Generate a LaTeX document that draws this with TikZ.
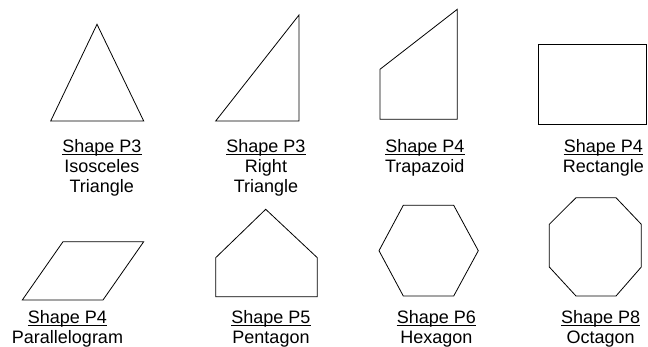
\documentclass[tikz,border=0pt]{standalone}
\usepackage{fontspec}
\setmainfont{Liberation Sans}
\begin{document}
\begin{tikzpicture}[x=1pt,y=-1pt,
  poly/.style={draw, line width=0.8pt, line join=miter},
  lab/.style={anchor=base, inner sep=0pt, font=\fontsize{18}{20}\selectfont},
  ul/.style={line width=1.2pt}]
\useasboundingbox (0,0) rectangle (648,347);
% row 1 shapes
\draw[poly] (97,24.3) -- (143.7,121) -- (50.7,121) -- cycle;
\draw[poly] (299,15) -- (299,121) -- (215.7,121) -- cycle;
\draw[poly] (457.3,9.3) -- (457.3,119.3) -- (380,119.3) -- (380,69.3) -- cycle;
\draw[poly] (538.7,44) rectangle (646.5,124);
% row 2 shapes
\draw[poly] (63,241.7) -- (143.7,241.7) -- (103,300) -- (22.3,300) -- cycle;
\draw[poly] (265.7,209.3) -- (317.3,257.7) -- (317.3,296.7) -- (215.7,296.7) -- (215.7,257.7) -- cycle;
\draw[poly] (403.3,205.3) -- (453.7,205.3) -- (478.3,250.7) -- (453.7,296) -- (403.3,296) -- (379,250.7) -- cycle;
\draw[poly] (576,197.7) -- (616,197.7) -- (641.3,224.3) -- (641.3,267) -- (616,296) -- (576,296) -- (549.3,267) -- (549.3,224.3) -- cycle;
% labels row 1
\node[lab] (a1) at (101.8,152.7) {Shape P3};
\node[lab] (a2) at (101.8,172.2) {Isosceles};
\node[lab] (a3) at (101.8,192.5) {Triangle};
\node[lab] (b1) at (266,152.7) {Shape P3};
\node[lab] (b2) at (266,172.2) {Right};
\node[lab] (b3) at (266,192.5) {Triangle};
\node[lab] (c1) at (424.8,152.7) {Shape P4};
\node[lab] (c2) at (424.8,172.2) {Trapazoid};
\node[lab] (d1) at (603.3,152.7) {Shape P4};
\node[lab] (d2) at (603.3,172.2) {Rectangle};
% labels row 2
\node[lab] (e1) at (67.5,323.5) {Shape P4};
\node[lab] (e2) at (67.5,343.2) {Parallelogram};
\node[lab] (f1) at (271,323.5) {Shape P5};
\node[lab] (f2) at (271,343.2) {Pentagon};
\node[lab] (g1) at (436.3,323.5) {Shape P6};
\node[lab] (g2) at (436.3,343.2) {Hexagon};
\node[lab] (h1) at (600.7,323.5) {Shape P8};
\node[lab] (h2) at (600.7,343.2) {Octagon};
% underlines
\foreach \n in {a1,b1,c1,d1,e1,f1,g1,h1}
  \draw[ul] ([yshift=-1.8pt]\n.base west) -- ([yshift=-1.8pt]\n.base east);
\end{tikzpicture}
\end{document}
